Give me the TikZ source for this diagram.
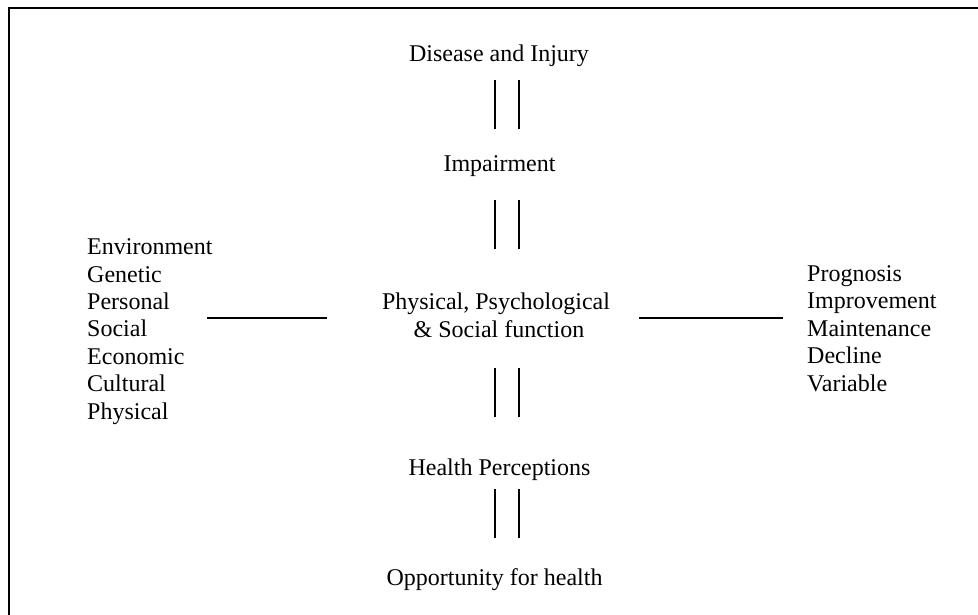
\documentclass[tikz,border=0pt]{standalone}
\usepackage{fontspec}
\setmainfont{Liberation Serif}
\begin{document}
\begin{tikzpicture}[x=1pt,y=-1pt,
  lbl/.style={inner sep=0pt,anchor=base,font=\fontsize{24}{27.4}\selectfont},
  lst/.style={inner sep=0pt,anchor=base west,align=left,font=\fontsize{24}{27.4}\selectfont},
  conn/.style={line width=1.7pt},
  frame/.style={line width=2.2pt}]
\useasboundingbox (0,0) rectangle (978,614);
\draw[frame] (9,620) -- (9,8) -- (985,8);

\node[lbl] (dis) at (499,61) {Disease and Injury};
\node[lbl] (imp) at (499.5,171.5) {Impairment};
% multi-line nodes: base anchor is the baseline of the last line
\node[lbl,align=center] (fun) at (496,337) {Physical, Psychological\\\hspace*{6pt}\& Social function};
\node[lbl] (hp) at (499.5,475) {Health Perceptions};
\node[lbl] (opp) at (494.5,585) {Opportunity for health};
\node[lst] (env) at (87,419) {Environment\\Genetic\\Personal\\Social\\Economic\\Cultural\\Physical};
\node[lst] (prog) at (807,391) {Prognosis\\Improvement\\Maintenance\\Decline\\Variable};

\foreach \n/\a/\b in {a/80/129,b/200/249,c/368/417,d/489/538}{
  \coordinate (\n1t) at (495,\a); \coordinate (\n1b) at (495,\b);
  \coordinate (\n2t) at (519,\a); \coordinate (\n2b) at (519,\b);
}
\draw[conn] (a1t) -- (a1b) (a2t) -- (a2b);
\draw[conn] (b1t) -- (b1b) (b2t) -- (b2b);
\draw[conn] (c1t) -- (c1b) (c2t) -- (c2b);
\draw[conn] (d1t) -- (d1b) (d2t) -- (d2b);

\coordinate (l1) at (207,318); \coordinate (l2) at (327,318);
\coordinate (r1) at (639,318); \coordinate (r2) at (783,318);
\draw[conn] (l1) -- (l2);
\draw[conn] (r1) -- (r2);
\end{tikzpicture}
\end{document}
